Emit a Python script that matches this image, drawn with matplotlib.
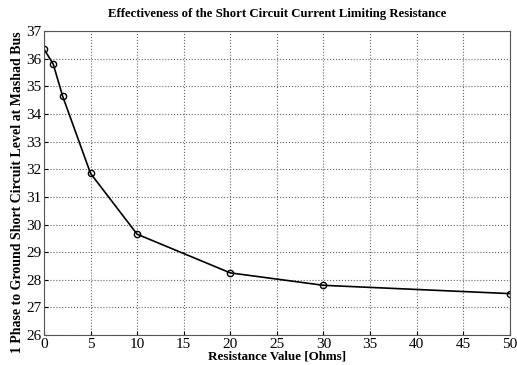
import matplotlib
matplotlib.use("Agg")
import matplotlib.pyplot as plt

resistance = [0, 1, 2, 5, 10, 20, 30, 50]
sc_level = [36.35, 35.8, 34.65, 31.85, 29.65, 28.25, 27.8, 27.5]

x_ticks = list(range(0, 51, 5))
y_ticks = list(range(26, 38))


def main():
    plt.rcParams['font.family'] = ['Liberation Serif', 'DejaVu Serif']

    fig = plt.figure(figsize=(5.17, 3.65), dpi=100)
    ax = fig.add_axes([0.085, 0.082, 0.901, 0.833])

    ax.plot(resistance, sc_level, marker='o', linestyle='-', color='black',
            linewidth=1.2, markersize=4.5, markerfacecolor='none',
            markeredgewidth=1.0)

    ax.set_xlim(0, 50)
    ax.set_ylim(26, 37)
    ax.set_xticks(x_ticks)
    ax.set_yticks(y_ticks)
    ax.tick_params(direction='in', labelsize=11, length=3, pad=2)
    ax.grid(True, linestyle=':', color='#666666', linewidth=0.8)

    ax.set_title("Effectiveness of the Short Circuit Current Limiting Resistance",
                 fontsize=9.2, fontweight='bold', pad=10)
    ax.set_xlabel("Resistance Value [Ohms]", fontsize=9.4, fontweight='bold', labelpad=0)
    ax.set_ylabel("1 Phase to Ground Short Circuit Level at Mashad Bus",
                  fontsize=10, fontweight='bold')
    ax.yaxis.set_label_coords(-0.042, 0.47)

    for s in ax.spines.values():
        s.set_color('#555555')

    fig.savefig("out.png", dpi=100)


if __name__ == "__main__":
    main()
